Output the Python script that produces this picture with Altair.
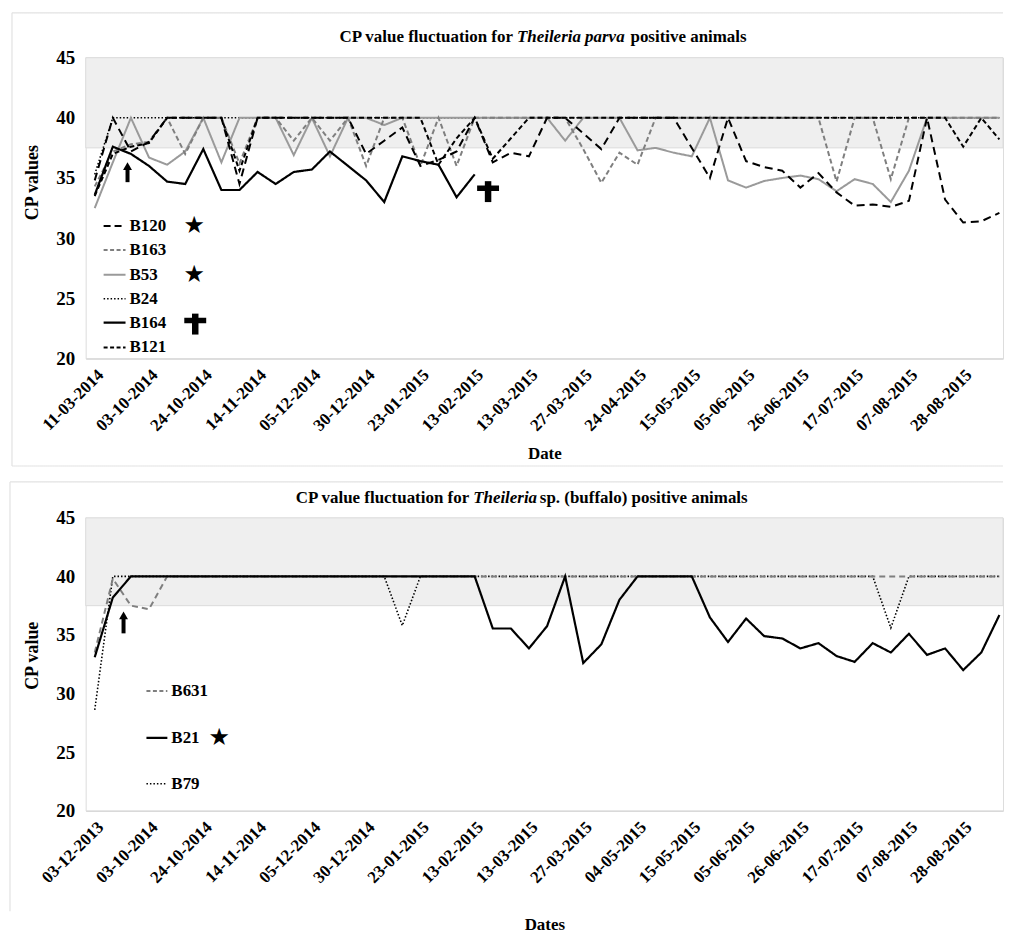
import json
import altair as alt
import pandas as pd

# ------------------------------------------------------------------ data
top_dates = ["11-03-2014", "03-10-2014", "24-10-2014", "14-11-2014", "05-12-2014",
             "30-12-2014", "23-01-2015", "13-02-2015", "13-03-2015", "27-03-2015",
             "24-04-2015", "15-05-2015", "05-06-2015", "26-06-2015", "17-07-2015",
             "07-08-2015", "28-08-2015"]
bottom_dates = ["03-12-2013", "03-10-2014", "24-10-2014", "14-11-2014", "05-12-2014",
                "30-12-2014", "23-01-2015", "13-02-2015", "13-03-2015", "27-03-2015",
                "04-05-2015", "15-05-2015", "05-06-2015", "26-06-2015", "17-07-2015",
                "07-08-2015", "28-08-2015"]

top_b120 = [34.8, 40, 37.2, 38.0, 40, 40, 40, 40, 34.5, 40, 40, 40, 40, 40, 40, 37.0, 38.1,
            39.2, 36.0, 36.5, 37.2, 40, 36.3, 37.1, 36.8, 40, 40, 38.7, 37.4, 40, 40, 40, 40,
            37.5, 35.0, 40, 36.4, 35.9, 35.6, 34.2, 35.4, 33.8, 32.7, 32.8, 32.6, 33.1, 40,
            33.2, 31.3, 31.4, 32.1]
top_b163 = [34.3, 37.2, 37.8, 38.0, 40, 37.0, 40, 40, 36.2, 40, 40, 38.1, 40, 38.1, 40, 36.0,
            40, 40, 36.0, 40, 36.0, 40, 40, 40, 40, 40, 40, 37.4, 34.6, 37.1, 36.1, 40, 40,
            40, 40, 40, 40, 40, 40, 40, 40, 34.7, 40, 40, 34.9, 40, 40, 40, 40, 40, 40]
top_b53 = [32.5, 36.3, 40, 36.7, 36.1, 37.2, 40, 36.3, 40, 40, 40, 36.9, 40, 36.8, 40, 40,
           39.4, 40, 40, 40, 40, 40, 40, 40, 40, 40, 38.1, 40, 40, 40, 37.3, 37.5, 37.1,
           36.8, 40, 34.8, 34.2, 34.75, 35.0, 35.2, 34.9, 33.9, 34.9, 34.5, 33.0, 35.6, 40,
           40, 40, 40, 40]
top_b24 = [35.3] + [40] * 50
top_b164 = [33.6, 37.6, 37.0, 36.0, 34.7, 34.5, 37.4, 34.0, 34.0, 35.5, 34.5, 35.5, 35.7,
            37.2, 36.0, 34.8, 33.0, 36.8, 36.4, 36.1, 33.4, 35.3]
top_b121 = ([33.5, 37.0, 37.6, 37.9, 40, 40, 40, 40, 35.6, 40, 40, 40, 40, 40, 40, 40, 40,
             40, 40, 36.1, 38.3, 40, 36.6, 38.3, 40] + [40] * 23 + [37.6, 40, 38.2])

bot_b631 = [33.5, 39.8, 37.5, 37.2] + [40] * 47
bot_b21 = ([33.1, 38.2] + [40] * 20 +
           [35.55, 35.55, 33.85, 35.75, 40, 32.6, 34.2, 38.0, 40, 40, 40, 40, 36.5, 34.4,
            36.4, 34.9, 34.7, 33.85, 34.3, 33.2, 32.7, 34.3, 33.5, 35.1, 33.3, 33.85, 32.0,
            33.5, 36.7])
bot_b79 = [28.6] + [40] * 16 + [35.8] + [40] * 26 + [35.6] + [40] * 6

band_low, band_high = 37.5, 45
y_ticks = [20, 25, 30, 35, 40, 45]

# ------------------------------------------------------------------ style
FONT = "Liberation Serif"
SYM_FONT = "DejaVu Sans"
W = 921
H_TOP = 302
H_BOT = 294
X_DOMAIN = [-0.5, 50.2]
BLACK = "#000000"
GRAY_DASH = "#7f7f7f"
GRAY_SOLID = "#9a9a9a"
FRAME = "#e2e2e2"

one = pd.DataFrame({"k": [0]})


def x_axis(labels, title, title_pad):
    expr = json.dumps(labels) + "[round(datum.value / 3)]"
    return alt.Axis(values=list(range(0, 3 * len(labels), 3)), labelExpr=expr,
                    labelAngle=-45, labelAlign="right", labelBaseline="top",
                    labelFont=FONT, labelFontWeight="bold", labelFontSize=17,
                    labelColor="black", labelPadding=8, labelFlush=False,
                    labelOverlap=False, ticks=False, grid=False,
                    domainColor="#d9d9d9", domainWidth=1.5,
                    title=title, titleFont=FONT, titleFontSize=17,
                    titleFontWeight="bold", titleColor="black", titlePadding=title_pad)


def y_axis(title, title_y):
    return alt.Axis(values=y_ticks, labelFont=FONT, labelFontWeight="bold",
                    labelFontSize=19, labelColor="black", labelPadding=11,
                    ticks=False, domain=False, grid=False, title=title,
                    titleFont=FONT, titleFontSize=18, titleFontWeight="bold",
                    titleColor="black", titlePadding=14, titleY=title_y)


def text_at(txt, x, y, size=17, style="normal", align="left", font=FONT, weight="bold"):
    return alt.Chart(one).mark_text(text=txt, align=align, baseline="middle",
                                    font=font, fontSize=size, fontStyle=style,
                                    fontWeight=weight, color="black").encode(
        x=alt.value(x), y=alt.value(y))


def rule_at(x1, x2, y, color, dash, width):
    return alt.Chart(one).mark_rule(color=color, strokeDash=dash, strokeWidth=width).encode(
        x=alt.value(x1), x2=alt.value(x2), y=alt.value(y))


def vrule_at(x, y1, y2, color, width):
    return alt.Chart(one).mark_rule(color=color, strokeWidth=width).encode(
        x=alt.value(x), y=alt.value(y1), y2=alt.value(y2))


def arrow_at(x, y_tip, y_end):
    shaft = vrule_at(x, y_tip + 6, y_end, "black", 4)
    head = alt.Chart(one).mark_point(shape="triangle-up", filled=True, color="black",
                                     size=80, opacity=1).encode(
        x=alt.value(x), y=alt.value(y_tip + 5))
    return [shaft, head]


def cross_at(x, y_top):
    return [vrule_at(x, y_top, y_top + 21, "black", 6.5),
            rule_at(x - 11, x + 11, y_top + 7, "black", [1, 0], 5.5)]


def panel(series, dates, ytitle, ytitle_y, xtitle, xpad, height, title_parts, legend,
          extras):
    x = alt.X("idx:Q", scale=alt.Scale(domain=X_DOMAIN, nice=False, zero=False),
              axis=x_axis(dates, xtitle, xpad))
    y = alt.Y("cp:Q", scale=alt.Scale(domain=[20, 45], nice=False, zero=False),
              axis=y_axis(ytitle, ytitle_y))
    band = alt.Chart(pd.DataFrame({"cp": [band_low], "cp2": [band_high]})).mark_rect(
        color="#efefef", stroke="#dcdcdc", strokeWidth=1).encode(
        x=alt.value(0), x2=alt.value(W), y=y, y2="cp2:Q")
    layers = [band]
    for name, vals, color, dash, width in series:
        df = pd.DataFrame({"idx": list(range(len(vals))), "cp": vals})
        layers.append(alt.Chart(df).mark_line(color=color, strokeDash=dash,
                                              strokeWidth=width, clip=True).encode(x=x, y=y))
    for name, ly, color, dash, width, lx1, lx2, tx in legend:
        layers.append(rule_at(lx1, lx2, ly, color, dash, width))
        layers.append(text_at(name, tx, ly))
    layers += extras
    layers += title_parts
    return alt.layer(*layers).properties(width=W, height=height)


# ------------------------------------------------------------------ top panel
top_series = [
    ("B24", top_b24, BLACK, [1.5, 2], 1.6),
    ("B53", top_b53, GRAY_SOLID, [1, 0], 2),
    ("B163", top_b163, GRAY_DASH, [5, 3], 2),
    ("B164", top_b164, BLACK, [1, 0], 2.2),
    ("B121", top_b121, BLACK, [5, 3], 2),
    ("B120", top_b120, BLACK, [8, 5], 2),
]
top_legend = [
    ("B120", 169, BLACK, [7, 4], 2, 18, 40, 44),
    ("B163", 193, GRAY_DASH, [4, 2.5], 2, 18, 40, 44),
    ("B53", 218, GRAY_SOLID, [1, 0], 2, 18, 40, 44),
    ("B24", 242, BLACK, [1.5, 2], 1.5, 18, 40, 44),
    ("B164", 266, BLACK, [1, 0], 2.2, 18, 40, 44),
    ("B121", 291, BLACK, [4, 2.5], 2, 18, 40, 44),
]
top_frame = [
    rule_at(-74, W, -45, FRAME, [1, 0], 1.2),
    vrule_at(-74, -45, 410, FRAME, 1.2),
    rule_at(-74, W, 410, FRAME, [1, 0], 1.2),
]
top_extras = (top_frame + [
    text_at("★", 109, 169, size=24, align="center", font=SYM_FONT),
    text_at("★", 109, 218, size=24, align="center", font=SYM_FONT),
] + cross_at(110, 257) + cross_at(404, 124) + arrow_at(42, 104, 125))
top_title = [
    text_at("CP value fluctuation for", 429, -21, align="right"),
    text_at("Theileria parva", 433, -21, style="italic"),
    text_at("positive animals", 547, -21),
]
top = panel(top_series, top_dates, "CP values", 125, "Date", 12, H_TOP, top_title,
            top_legend, top_extras)

# ------------------------------------------------------------------ bottom panel
bot_series = [
    ("B79", bot_b79, BLACK, [1.5, 2], 1.6),
    ("B631", bot_b631, GRAY_DASH, [6, 4], 2),
    ("B21", bot_b21, BLACK, [1, 0], 2.2),
]
bot_legend = [
    ("B631", 174, GRAY_DASH, [4, 2.5], 2, 61, 82, 86),
    ("B21", 221, BLACK, [1, 0], 2.2, 61, 82, 86),
    ("B79", 267, BLACK, [1.5, 2], 1.5, 61, 82, 86),
]
bot_frame = [
    rule_at(-76, W, -36, FRAME, [1, 0], 1.2),
    vrule_at(-76, -36, 395, FRAME, 1.2),
]
bot_extras = bot_frame + [
    text_at("★", 134, 221, size=24, align="center", font=SYM_FONT),
] + arrow_at(38, 93, 116)
bot_title = [
    text_at("CP value fluctuation for", 385, -20, align="right"),
    text_at("Theileria", 389, -20, style="italic"),
    text_at("sp. (buffalo) positive animals", 456, -20),
]
bottom = panel(bot_series, bottom_dates, "CP value", 138, "Dates", 31, H_BOT, bot_title,
               bot_legend, bot_extras)

chart = alt.vconcat(top, bottom, spacing=12).properties(
    padding={"left": 0, "top": 1, "right": 0, "bottom": 0}
).configure_view(stroke=None).configure(font=FONT, background="white")

chart.save("out.html", embed_options={"renderer": "svg", "actions": False})
